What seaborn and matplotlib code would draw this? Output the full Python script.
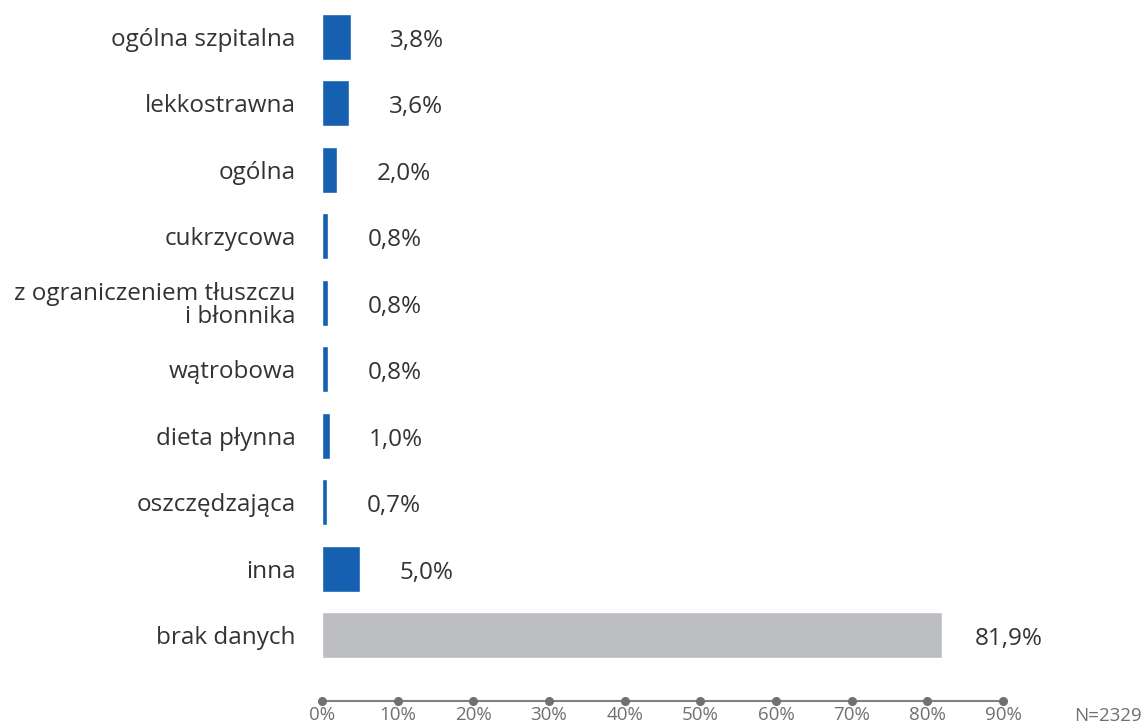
import matplotlib
matplotlib.use("Agg")
import matplotlib.pyplot as plt
import seaborn as sns
import pandas as pd
import numpy as np
from matplotlib import font_manager

categories = ["ogólna szpitalna", "lekkostrawna", "ogólna", "cukrzycowa",
              "z ograniczeniem tłuszczu\ni błonnika", "wątrobowa", "dieta płynna",
              "oszczędzająca", "inna", "brak danych"]
values = [3.8, 3.6, 2.0, 0.8, 0.8, 0.8, 1.0, 0.7, 5.0, 81.9]
value_labels = ["3,8%", "3,6%", "2,0%", "0,8%", "0,8%", "0,8%", "1,0%", "0,7%", "5,0%", "81,9%"]
ticks = [0, 10, 20, 30, 40, 50, 60, 70, 80, 90]
tick_labels = ["0%", "10%", "20%", "30%", "40%", "50%", "60%", "70%", "80%", "90%"]
n_label = "N=2329"

sns.set_theme(style="white")
plt.rcParams['font.family'] = ['Open Sans', 'DejaVu Sans']

names = {f.name for f in font_manager.fontManager.ttflist}
narrow = "Liberation Sans Narrow" if "Liberation Sans Narrow" in names else "Open Sans"

BLUE = "#1560B0"
GREY = "#BCBDC1"
colors = [BLUE] * 9 + [GREY]

df = pd.DataFrame({"cat": categories, "val": values})

fig = plt.figure(figsize=(11.45, 7.28), dpi=100)
ax = fig.add_axes([322/1145, 1 - 701/728, (1003-322)/1145, (701-3.7)/728])

sns.barplot(data=df, x="val", y="cat", hue="cat", palette=colors, legend=False,
            orient="h", width=0.69, ax=ax, saturation=1)

ax.set_xlim(0, 90)
ax.set_ylim(9.99, -0.5)
ax.set_xlabel("")
ax.set_ylabel("")

for s in ["top", "right", "left"]:
    ax.spines[s].set_visible(False)
ax.spines["bottom"].set_color("#808080")
ax.spines["bottom"].set_linewidth(1.5)

ax.set_xticks(ticks)
ax.set_xticklabels(tick_labels, color="#707070", fontsize=13.5, family=narrow)
ax.tick_params(axis="x", length=0, pad=3.5)
ax.plot(ticks, [9.99] * len(ticks), "o", color="#707070", markersize=5.5, clip_on=False, zorder=5)

ax.tick_params(axis="y", length=0, pad=19)
for lbl in ax.get_yticklabels():
    lbl.set_fontsize(17.5)
    lbl.set_color("#333333")
    lbl.set_linespacing(0.95)

for i, (v, t) in enumerate(zip(values, value_labels)):
    ax.text(v + 8.8, i + 0.06, t, ha="center", va="center", fontsize=17.5, color="#333333")

ax.text(1.0 + (1142-1003)/681, -0.008, n_label, transform=ax.transAxes, ha="right", va="top",
        fontsize=13.5, color="#707070", family=narrow)

fig.savefig("out.png", dpi=100)
